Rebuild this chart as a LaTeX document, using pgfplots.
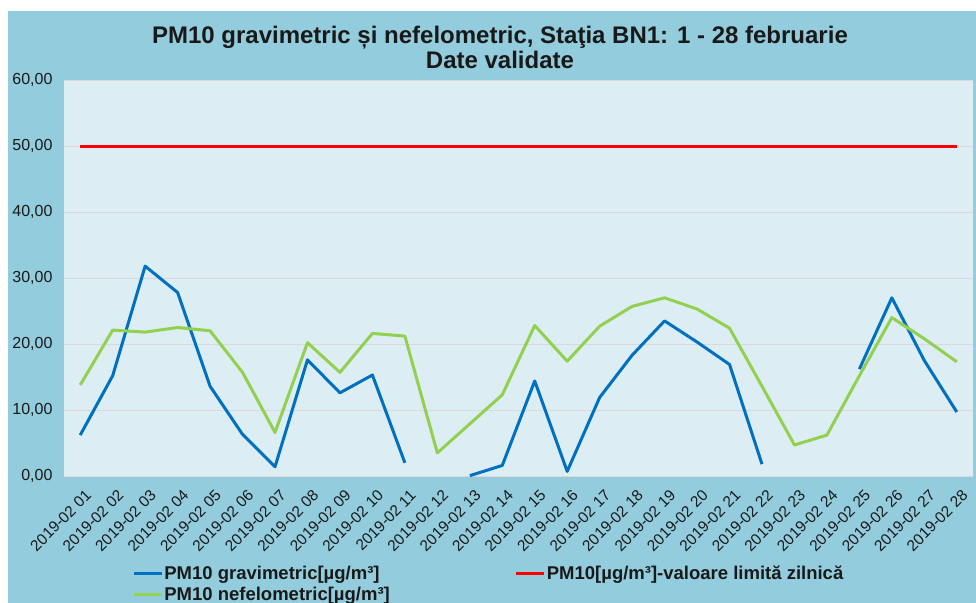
\documentclass[border=0pt]{standalone}
\usepackage{pgfplots}
\pgfplotsset{compat=1.18}
\usepackage{fontspec}
\setmainfont{Liberation Sans}
\definecolor{panel}{HTML}{93CDDD}
\definecolor{plotbg}{HTML}{DCEEF3}
\definecolor{gblue}{HTML}{0070C0}
\definecolor{ggreen}{HTML}{92D050}
\definecolor{gridc}{HTML}{DDD6DA}
\pgfplotstableread{
day grav nefel
1 6.2 13.8
2 15.2 22.1
3 31.8 21.8
4 27.8 22.5
5 13.6 22.0
6 6.3 15.7
7 1.4 6.6
8 17.6 20.2
9 12.6 15.7
10 15.3 21.6
11 2.0 21.2
12 nan 3.5
13 0.05 7.9
14 1.6 12.3
15 14.4 22.8
16 0.7 17.4
17 11.9 22.7
18 18.3 25.7
19 23.5 27.0
20 20.3 25.3
21 16.9 22.4
22 1.8 13.6
23 nan 4.7
24 nan 6.2
25 16.2 15.2
26 27.0 24.0
27 17.5 20.8
28 9.7 17.3
}\datatable
\begin{document}
\begin{tikzpicture}
\fill[white] (-64bp,-127bp) rectangle (912bp,476bp);
\fill[panel] (-56bp,-127bp) rectangle (912bp,465bp);
\node[font=\bfseries\fontsize{24bp}{25bp}\selectfont, align=center, text=black!90] at (436bp,429bp)
  {PM10 gravimetric și nefelometric, Staţia BN1: 1 - 28 februarie\\Date validate};
\begin{axis}[
  at={(0,0)}, anchor=south west,
  scale only axis, width=909bp, height=396bp,
  xmin=0.5, xmax=28.5, ymin=0, ymax=60,
  ytick={0,10,...,60},
  xtick={1,...,28},
  xticklabels={2019-02 01,2019-02 02,2019-02 03,2019-02 04,2019-02 05,2019-02 06,2019-02 07,2019-02 08,2019-02 09,2019-02 10,2019-02 11,2019-02 12,2019-02 13,2019-02 14,2019-02 15,2019-02 16,2019-02 17,2019-02 18,2019-02 19,2019-02 20,2019-02 21,2019-02 22,2019-02 23,2019-02 24,2019-02 25,2019-02 26,2019-02 27,2019-02 28},
  axis background/.style={fill=plotbg},
  axis line style={draw=none},
  major tick length=0pt,
  ymajorgrids, grid style={gridc, line width=0.8bp},
  yticklabel style={font=\fontsize{16bp}{18bp}\selectfont, text=black!90,
    /pgf/number format/fixed, /pgf/number format/fixed zerofill,
    /pgf/number format/precision=2, /pgf/number format/use comma,
    /pgf/number format/assume math mode=true, xshift=-8bp},
  xticklabel style={font=\fontsize{15.5bp}{17bp}\selectfont, text=black!90, rotate=45, anchor=north east, inner sep=1bp, yshift=-11bp, xshift=-5bp},
  unbounded coords=jump,
  legend columns=2,
  legend cell align=left,
  legend style={at={(0.075,-0.225)}, anchor=north west, draw=none, fill=none,
    font=\bfseries\fontsize{18.5bp}{20bp}\selectfont, inner sep=0pt,
    row sep=4bp, nodes={inner sep=1bp, text=black!90},
    /tikz/every even column/.append style={column sep=124bp}},
  legend image code/.code={\draw[#1] (0bp,0bp) -- (28bp,0bp);},
]
\addplot[gblue, line width=3bp, line join=round] table[x=day, y=grav] {\datatable};
\addlegendentry{PM10 gravimetric[µg/m³]}
\addplot[red, line width=3bp] coordinates {(1,50) (28,50)};
\addlegendentry{PM10[µg/m³]-valoare limită zilnică}
\addplot[ggreen, line width=3bp, line join=round] table[x=day, y=nefel] {\datatable};
\addlegendentry{PM10 nefelometric[µg/m³]}
\end{axis}
\pgfresetboundingbox
\useasboundingbox (-64bp,-127bp) rectangle (912bp,476bp);
\end{tikzpicture}
\end{document}
